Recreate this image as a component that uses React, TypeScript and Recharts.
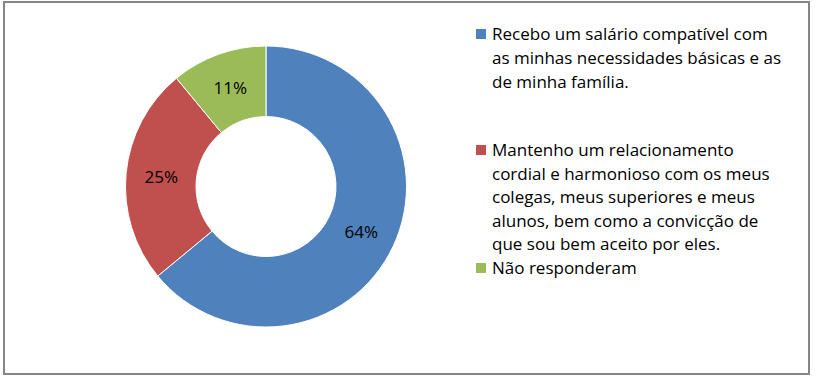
import { PieChart, Pie, Cell, Legend } from 'recharts'

const categories = [
    'Recebo um salário compatível com\nas minhas necessidades básicas e as\nde minha família.',
    'Mantenho um relacionamento\ncordial e harmonioso com os meus\ncolegas, meus superiores e meus\nalunos, bem como a convicção de\nque sou bem aceito por eles.',
    'Não responderam',
]
const values = [64, 25, 11]
const colors = ['#4F81BD', '#C0504D', '#9BBB59']

const data = categories.map((name, i) => ({ name, value: values[i] }))

const FONT = '"Open Sans", sans-serif'
const RAD = Math.PI / 180

// legend item tops / line heights / marker offsets, roughly where the source placed them
const itemTops = [22, 138, 259.5]
const itemLineHeights = [24, 23.5, 16]
const markerTops = [7, 7, 3]

function renderLabel(props: any) {
    const { cx, cy, midAngle, innerRadius, outerRadius, percent } = props
    const r = (innerRadius + outerRadius) / 2
    const x = cx + r * Math.cos(-midAngle * RAD)
    const y = cy + r * Math.sin(-midAngle * RAD)
    return (
        <text x={x} y={y} fill="#000" fontFamily={FONT} fontSize={17}
              textAnchor="middle" dominantBaseline="central">
            {`${Math.round(percent * 100)}%`}
        </text>
    )
}

function LegendBox() {
    return (
        <div style={{ position: 'relative', width: 330, height: 300, fontFamily: FONT, fontSize: 17, color: '#000' }}>
            {data.map((d, i) => (
                <div key={d.name} style={{ position: 'absolute', left: 0, top: itemTops[i], lineHeight: `${itemLineHeights[i]}px` }}>
                    <span style={{ position: 'absolute', left: 0, top: markerTops[i], width: 10, height: 10, background: colors[i] }} />
                    <div style={{ marginLeft: 16, whiteSpace: 'pre', textAlign: 'left' }}>{d.name}</div>
                </div>
            ))}
        </div>
    )
}

export default function App() {
    return (
        <div style={{ position: 'absolute', left: 0, top: 0, width: 816, height: 378, background: '#fff' }}>
            <div style={{ position: 'absolute', left: 3, top: 1, width: 803, height: 370, border: '2px solid #868686' }} />
            <PieChart width={816} height={378} margin={{ top: 0, right: 0, bottom: 0, left: 0 }}>
                <Pie
                    data={data}
                    dataKey="value"
                    nameKey="name"
                    cx={266}
                    cy={186.5}
                    innerRadius={70}
                    outerRadius={140.5}
                    startAngle={90}
                    endAngle={-270}
                    stroke="#ffffff"
                    strokeWidth={1}
                    label={renderLabel}
                    labelLine={false}
                    isAnimationActive={false}
                >
                    {data.map((d, i) => (
                        <Cell key={`cell-${i}`} fill={colors[i]} />
                    ))}
                </Pie>
                <Legend
                    content={() => <LegendBox />}
                    wrapperStyle={{ position: 'absolute', left: 476, top: 0, width: 330 }}
                />
            </PieChart>
        </div>
    )
}
